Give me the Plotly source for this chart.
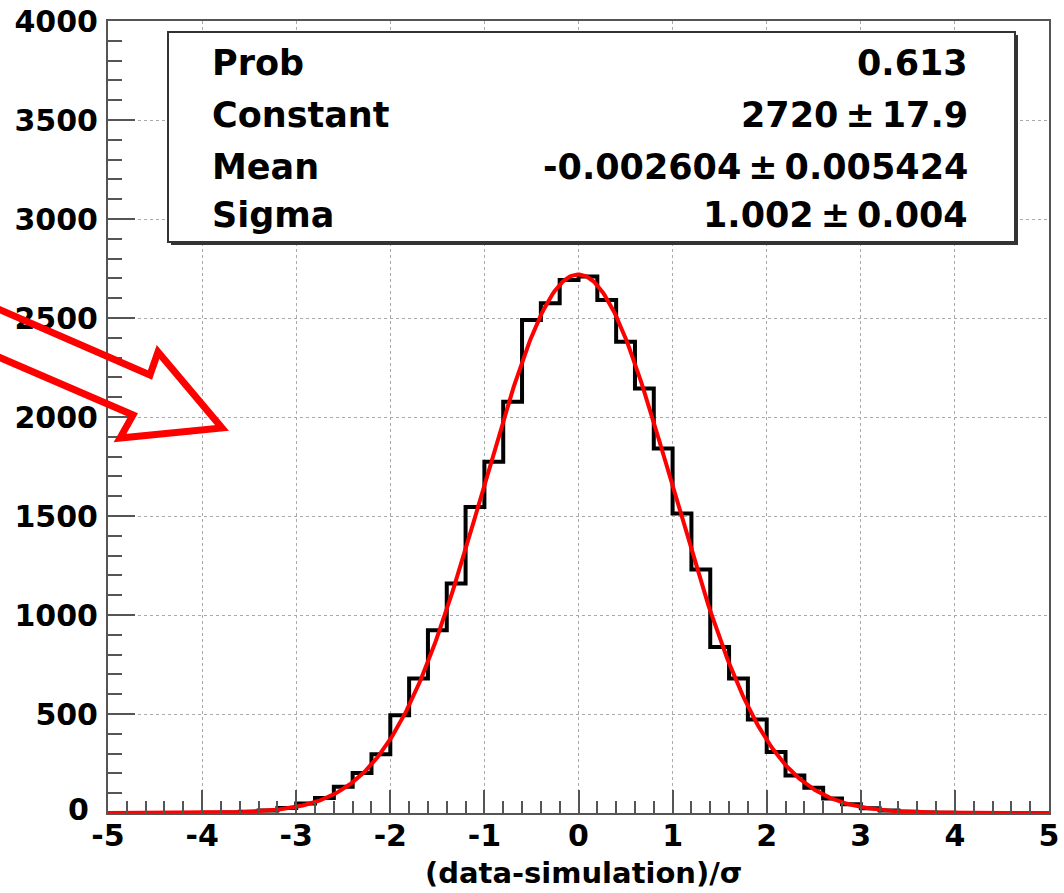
import numpy as np
import plotly.graph_objects as go

# Histogram: 50 bins of width 0.2 on [-5, 5]
bin_lo, bin_hi, n_bins = -5.0, 5.0, 50
counts = [
    0, 0, 0, 0, 0,
    1, 3, 6, 12, 25,
    48, 76, 133, 202, 297,
    494, 679, 923, 1159, 1545,
    1774, 2077, 2490, 2574, 2692,
    2709, 2591, 2380, 2144, 1841,
    1513, 1230, 839, 679, 472,
    308, 190, 128, 73, 44,
    24, 12, 6, 3, 1,
    0, 0, 0, 0, 0,
]

# Gaussian fit results
fit_prob = 0.613
fit_const, fit_const_err = 2720, 17.9
fit_mean, fit_mean_err = -0.002604, 0.005424
fit_sigma, fit_sigma_err = 1.002, 0.004

stat_names = ["Prob", "Constant", "Mean", "Sigma"]
stat_values = [
    f"{fit_prob:.3f}",
    f"{fit_const}\u2009\u00b1\u2009{fit_const_err}",
    f"{fit_mean}\u2009\u00b1\u2009{fit_mean_err}",
    f"{fit_sigma:.3f}\u2009\u00b1\u2009{fit_sigma_err:.3f}",
]

x_ticks = list(range(-5, 6))
y_ticks = list(range(0, 4001, 500))
x_title = "(data-simulation)/\u03c3"

W, H = 1064, 893
ML, MR, MT, MB = 108, 15, 21, 80
PW, PH = W - ML - MR, H - MT - MB


def px(x):
    return (x - ML) / PW


def py(y):
    return (H - MB - y) / PH


FONT = "DejaVu Sans"
AXIS_COL = "#555555"

edges = np.linspace(bin_lo, bin_hi, n_bins + 1)
xf = np.linspace(bin_lo, bin_hi, 600)
yf = fit_const * np.exp(-0.5 * ((xf - fit_mean) / fit_sigma) ** 2)

fig = go.Figure()
fig.add_trace(go.Scatter(
    x=edges, y=counts + [counts[-1]], mode="lines", line_shape="hv",
    line=dict(color="black", width=4), hoverinfo="skip", showlegend=False,
))
fig.add_trace(go.Scatter(
    x=xf, y=yf, mode="lines", line=dict(color="#ff0000", width=4),
    hoverinfo="skip", showlegend=False,
))

shapes = []
# stat box shadow + box
shapes.append(dict(type="rect", xref="paper", yref="paper",
                   x0=px(171), x1=px(1018), y0=py(245), y1=py(35),
                   fillcolor="#333333", line=dict(width=0), layer="above"))
shapes.append(dict(type="rect", xref="paper", yref="paper",
                   x0=px(168), x1=px(1015), y0=py(242), y1=py(32),
                   fillcolor="white", line=dict(color="#333333", width=2), layer="above"))

# hollow red arrow
arrow_pts = [(-20, 301), (150, 375), (158, 352), (222, 428), (120, 438), (133, 415), (-20, 349)]
path = "M " + " L ".join(f"{px(a):.5f},{py(b):.5f}" for a, b in arrow_pts)
shapes.append(dict(type="path", xref="paper", yref="paper", path=path,
                   line=dict(color="#ff0000", width=7), layer="above"))

annotations = []
rows_y = [63, 115, 167, 215]
for name, val, yy in zip(stat_names, stat_values, rows_y):
    annotations.append(dict(xref="paper", yref="paper", x=px(210), y=py(yy),
                            xanchor="left", yanchor="middle", text=name, showarrow=False,
                            font=dict(family=FONT, size=35, color="black", weight="bold")))
    annotations.append(dict(xref="paper", yref="paper", x=px(970), y=py(yy),
                            xanchor="right", yanchor="middle", text=val, showarrow=False,
                            font=dict(family=FONT, size=35, color="black", weight="bold")))

# x-axis title
annotations.append(dict(xref="paper", yref="paper", x=px(583), y=py(873),
                        xanchor="center", yanchor="middle", text=x_title, showarrow=False,
                        font=dict(family=FONT, size=29, color="black", weight="bold")))

tickfont = dict(family=FONT, size=30, color="black", weight="bold")

# the y "0" label sits in the corner next to the x "-5" label; nudge it left/up
y_ticktext = [str(v) for v in y_ticks]
y_ticktext[0] = ""
annotations.append(dict(xref="paper", yref="paper", x=px(91), y=py(809),
                        xanchor="right", yanchor="middle", text=str(y_ticks[0]), showarrow=False,
                        font=tickfont))

fig.update_layout(
    width=W, height=H,
    margin=dict(l=ML, r=MR, t=MT, b=MB),
    paper_bgcolor="white", plot_bgcolor="white",
    shapes=shapes, annotations=annotations,
    xaxis=dict(
        range=[bin_lo, bin_hi], tickvals=x_ticks, ticktext=[str(v) for v in x_ticks],
        ticks="inside", ticklen=23, tickwidth=2, tickcolor=AXIS_COL,
        minor=dict(dtick=0.2, tick0=-5, ticks="inside", ticklen=12, tickwidth=2,
                   tickcolor=AXIS_COL, showgrid=False),
        showgrid=True, gridcolor="#aaaaaa", griddash="dot", gridwidth=1,
        showline=True, linecolor=AXIS_COL, linewidth=2, mirror=True,
        zeroline=False, tickfont=tickfont, automargin=False, ticklabelstandoff=-5,
    ),
    yaxis=dict(
        range=[0, 4000], tickvals=y_ticks, ticktext=y_ticktext,
        ticks="inside", ticklen=27, tickwidth=2, tickcolor=AXIS_COL,
        minor=dict(dtick=100, tick0=0, ticks="inside", ticklen=14, tickwidth=2,
                   tickcolor=AXIS_COL, showgrid=False),
        showgrid=True, gridcolor="#aaaaaa", griddash="dot", gridwidth=1,
        showline=True, linecolor=AXIS_COL, linewidth=2, mirror=True,
        zeroline=False, tickfont=tickfont, ticklabelstandoff=2, automargin=False,
    ),
)

fig.write_html("out.html")
